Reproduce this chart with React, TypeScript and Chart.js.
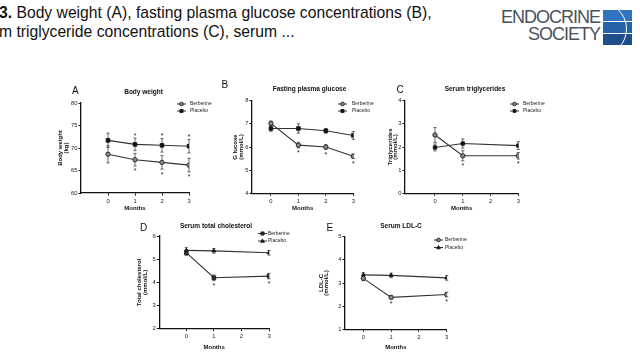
import React, { useEffect, useRef } from "react";
import { Chart, registerables } from "chart.js";

Chart.register(...registerables);

const FONT = "'Liberation Sans', Arial, Helvetica, sans-serif";
const LINE = "#333333";
const AXIS = "#111111";

// ---------- Panel A: body weight (kg)
const monthsA = [0, 1, 2, 3];
const weightBerberine = [68.6, 67.4, 66.8, 66.2];
const weightBerberineSem = [1.9, 1.4, 1.5, 1.5];
const weightPlacebo = [71.7, 70.8, 70.6, 70.4];
const weightPlaceboSem = [1.6, 1.4, 1.5, 1.5];
const weightStarMonths = [1, 2, 3];

// ---------- Panel B: fasting plasma glucose (mmol/L)
const monthsB = [0, 1, 2, 3];
const glucoseBerberine = [7.02, 6.08, 6.0, 5.6];
const glucoseBerberineSem = [0.1, 0.12, 0.1, 0.1];
const glucosePlacebo = [6.8, 6.8, 6.7, 6.5];
const glucosePlaceboSem = [0.12, 0.2, 0.1, 0.17];
const glucoseStarMonths = [1, 2, 3];

// ---------- Panel C: serum triglycerides (mmol/L)
const monthsC = [0, 1, 3];
const tgBerberine = [2.52, 1.62, 1.62];
const tgBerberineSem = [0.32, 0.22, 0.14];
const tgPlacebo = [1.98, 2.15, 2.06];
const tgPlaceboSem = [0.15, 0.2, 0.17];
const tgStarMonths = [1, 3];

// ---------- Panel D: serum total cholesterol (mmol/L)
const monthsD = [0, 1, 3];
const tcBerberine = [5.28, 4.2, 4.27];
const tcBerberineSem = [0.12, 0.12, 0.12];
const tcPlacebo = [5.38, 5.36, 5.28];
const tcPlaceboSem = [0.12, 0.1, 0.1];
const tcStarMonths = [1, 3];

// ---------- Panel E: serum LDL-C (mmol/L)
const monthsE = [0, 1, 3];
const ldlBerberine = [3.2, 2.38, 2.5];
const ldlBerberineSem = [0.1, 0.07, 0.1];
const ldlPlacebo = [3.35, 3.33, 3.22];
const ldlPlaceboSem = [0.1, 0.1, 0.1];
const ldlStarMonths = [1, 3];

const xTicks = [0, 1, 2, 3];
const seriesNames = ["Berberine", "Placebo"];

type MarkerStyle = "circle" | "rect" | "triangle";

type Series = {
  name: string;
  x: number[];
  y: number[];
  err: number[];
  point: MarkerStyle;
  r: number;
  fill: string;
};

type PanelSpec = {
  box: [number, number, number, number];
  area: [number, number, number, number];
  xMin: number;
  yMin: number;
  yMax: number;
  yStep: number;
  xAxisBottom: number;
  yTitleLeft: number;
  yTitle: string[];
  title: string;
  titleX: number;
  titleY: number;
  label: string;
  labelX: number;
  labelY: number;
  legendX: number;
  legendTextX: number;
  legendY: [number, number];
  series: Series[];
  starsBelow: number[];
  starsAbove: number[];
};

function drawMarker(
  ctx: CanvasRenderingContext2D,
  style: MarkerStyle,
  x: number,
  y: number,
  r: number,
  fill: string
) {
  ctx.save();
  ctx.beginPath();
  if (style === "circle") {
    ctx.arc(x, y, r, 0, Math.PI * 2);
  } else if (style === "rect") {
    const s = r * Math.SQRT1_2;
    ctx.rect(x - s, y - s, 2 * s, 2 * s);
  } else {
    ctx.moveTo(x, y - r * 1.1);
    ctx.lineTo(x + r, y + r * 0.7);
    ctx.lineTo(x - r, y + r * 0.7);
    ctx.closePath();
  }
  ctx.fillStyle = fill;
  ctx.fill();
  ctx.lineWidth = 0.8;
  ctx.strokeStyle = "#111";
  ctx.stroke();
  ctx.restore();
}

function Panel({ spec }: { spec: PanelSpec }) {
  const ref = useRef<HTMLCanvasElement | null>(null);
  const [bx, by, bw, bh] = spec.box;

  useEffect(() => {
    const canvas = ref.current;
    if (!canvas) return;
    const [L, T, R, B] = spec.area;
    const yAxisW = L - spec.yTitleLeft;
    const xAxisH = spec.xAxisBottom - B;

    const decor = {
      id: "decor",
      beforeDatasetsDraw(chart: any) {
        const ctx: CanvasRenderingContext2D = chart.ctx;
        const ys = chart.scales.y;
        ctx.save();
        ctx.strokeStyle = "#444";
        ctx.lineWidth = 0.8;
        spec.series.forEach((s, di) => {
          const meta = chart.getDatasetMeta(di);
          s.y.forEach((v, i) => {
            const px = meta.data[i].x;
            const top = ys.getPixelForValue(v + s.err[i]);
            const bot = ys.getPixelForValue(v - s.err[i]);
            ctx.beginPath();
            ctx.moveTo(px, top);
            ctx.lineTo(px, bot);
            ctx.moveTo(px - 1.6, top);
            ctx.lineTo(px + 1.6, top);
            ctx.moveTo(px - 1.6, bot);
            ctx.lineTo(px + 1.6, bot);
            ctx.stroke();
          });
        });
        ctx.restore();
      },
      afterDraw(chart: any) {
        const ctx: CanvasRenderingContext2D = chart.ctx;
        const xs = chart.scales.x;
        const ys = chart.scales.y;
        ctx.save();
        ctx.fillStyle = "#111";
        ctx.font = `10px ${FONT}`;
        ctx.textAlign = "left";
        ctx.textBaseline = "middle";
        ctx.fillText(spec.label, spec.labelX - bx, spec.labelY - by);
        ctx.font = `bold 6.5px ${FONT}`;
        ctx.textAlign = "center";
        ctx.fillText(spec.title, spec.titleX - bx, spec.titleY - by);
        ctx.font = `5px ${FONT}`;
        ctx.textAlign = "left";
        spec.series.forEach((s, i) => {
          const ly = spec.legendY[i] - by;
          const lx = spec.legendX - bx;
          ctx.strokeStyle = LINE;
          ctx.lineWidth = 1;
          ctx.beginPath();
          ctx.moveTo(lx - 4.5, ly);
          ctx.lineTo(lx + 4.5, ly);
          ctx.stroke();
          drawMarker(ctx, s.point, lx, ly, s.r * 0.85, s.fill);
          ctx.fillStyle = "#222";
          ctx.fillText(s.name, spec.legendTextX - bx, ly);
        });
        ctx.font = `7px ${FONT}`;
        ctx.textAlign = "center";
        ctx.fillStyle = "#222";
        const sb = spec.series[0];
        spec.starsBelow.forEach((m) => {
          const i = sb.x.indexOf(m);
          if (i < 0) return;
          const px = xs.getPixelForValue(m);
          const py = ys.getPixelForValue(sb.y[i] - sb.err[i]) + 5.5;
          ctx.fillText("*", px, py);
        });
        const sa = spec.series[1];
        spec.starsAbove.forEach((m) => {
          const i = sa.x.indexOf(m);
          if (i < 0) return;
          const px = xs.getPixelForValue(m);
          const py = ys.getPixelForValue(sa.y[i] + sa.err[i]) - 2.5;
          ctx.fillText("*", px, py);
        });
        ctx.restore();
      },
    };

    const chart = new Chart(canvas, {
      type: "line",
      data: {
        datasets: spec.series.map((s) => ({
          label: s.name,
          data: s.x.map((m, i) => ({ x: m, y: s.y[i] })),
          borderColor: LINE,
          borderWidth: 1.1,
          pointStyle: s.point,
          pointRadius: s.r,
          pointBackgroundColor: s.fill,
          pointBorderColor: "#111",
          pointBorderWidth: 0.8,
          tension: 0,
          fill: false,
        })),
      },
      options: {
        responsive: false,
        animation: false,
        devicePixelRatio: 1,
        layout: {
          padding: {
            left: spec.yTitleLeft - bx,
            top: T - by,
            right: bx + bw - R,
            bottom: by + bh - spec.xAxisBottom,
          },
        },
        plugins: {
          legend: { display: false },
          tooltip: { enabled: false },
          title: { display: false },
        },
        scales: {
          x: {
            type: "linear",
            min: spec.xMin,
            max: 3,
            afterBuildTicks: (s: any) => {
              s.ticks = xTicks.map((v) => ({ value: v }));
            },
            afterFit: (s: any) => {
              s.height = xAxisH;
            },
            grid: {
              display: true,
              drawOnChartArea: false,
              drawTicks: true,
              tickLength: 2.5,
              color: AXIS,
              lineWidth: 1,
            },
            border: { display: true, color: AXIS, width: 1.3 },
            ticks: {
              font: { size: 5.8, family: FONT },
              color: "#222",
              padding: 2,
              maxRotation: 0,
              autoSkip: false,
            },
            title: {
              display: true,
              text: "Months",
              font: { size: 6, weight: "bold", family: FONT, lineHeight: 1 },
              color: "#111",
              padding: 0,
            },
          },
          y: {
            type: "linear",
            min: spec.yMin,
            max: spec.yMax,
            afterFit: (s: any) => {
              s.width = yAxisW;
            },
            grid: {
              display: true,
              drawOnChartArea: false,
              drawTicks: true,
              tickLength: 2.5,
              color: AXIS,
              lineWidth: 1,
            },
            border: { display: true, color: AXIS, width: 1.3 },
            ticks: {
              stepSize: spec.yStep,
              font: { size: 5.8, family: FONT },
              color: "#222",
              padding: 1,
            },
            title: {
              display: true,
              text: spec.yTitle,
              font: { size: 6, weight: "bold", family: FONT, lineHeight: 0.9 },
              color: "#111",
              padding: 0,
            },
          },
        },
      } as any,
      plugins: [decor as any],
    });
    return () => chart.destroy();
  }, []);

  return (
    <canvas
      ref={ref}
      width={bw}
      height={bh}
      style={{ position: "absolute", left: bx, top: by, width: bw, height: bh }}
    />
  );
}

const BER_FILL = "#8a8a8a";
const PLA_FILL = "#111111";

const panels: PanelSpec[] = [
  {
    box: [48, 78, 175, 140],
    area: [81, 103, 189, 193],
    xMin: -1,
    yMin: 60,
    yMax: 80,
    yStep: 5,
    xAxisBottom: 211.5,
    yTitleLeft: 58,
    yTitle: ["Body weight", "(kg)"],
    title: "Body weight",
    titleX: 143.5,
    titleY: 92,
    label: "A",
    labelX: 72,
    labelY: 91.5,
    legendX: 181.5,
    legendTextX: 190,
    legendY: [104, 111],
    series: [
      { name: seriesNames[0], x: monthsA, y: weightBerberine, err: weightBerberineSem, point: "circle", r: 2.2, fill: BER_FILL },
      { name: seriesNames[1], x: monthsA, y: weightPlacebo, err: weightPlaceboSem, point: "rect", r: 2.6, fill: PLA_FILL },
    ],
    starsBelow: weightStarMonths,
    starsAbove: weightStarMonths,
  },
  {
    box: [215, 78, 168, 140],
    area: [252, 100.7, 353.3, 193.3],
    xMin: -0.69,
    yMin: 4,
    yMax: 8,
    yStep: 1,
    xAxisBottom: 211.5,
    yTitleLeft: 233,
    yTitle: ["G lucose", "(mmol/L)"],
    title: "Fasting plasma glucose",
    titleX: 309.5,
    titleY: 89.5,
    label: "B",
    labelX: 221.5,
    labelY: 85.5,
    legendX: 342.5,
    legendTextX: 352,
    legendY: [104, 111],
    series: [
      { name: seriesNames[0], x: monthsB, y: glucoseBerberine, err: glucoseBerberineSem, point: "circle", r: 2.2, fill: BER_FILL },
      { name: seriesNames[1], x: monthsB, y: glucosePlacebo, err: glucosePlaceboSem, point: "rect", r: 2.6, fill: PLA_FILL },
    ],
    starsBelow: glucoseStarMonths,
    starsAbove: [],
  },
  {
    box: [382, 78, 175, 140],
    area: [405, 100.7, 518.3, 193.3],
    xMin: -1.08,
    yMin: 0,
    yMax: 4,
    yStep: 1,
    xAxisBottom: 211.5,
    yTitleLeft: 387.5,
    yTitle: ["Triglycerides", "(mmol/L)"],
    title: "Serum triglycerides",
    titleX: 475,
    titleY: 89.5,
    label: "C",
    labelX: 396.5,
    labelY: 90,
    legendX: 514.5,
    legendTextX: 523,
    legendY: [104, 111],
    series: [
      { name: seriesNames[0], x: monthsC, y: tgBerberine, err: tgBerberineSem, point: "circle", r: 2.2, fill: BER_FILL },
      { name: seriesNames[1], x: monthsC, y: tgPlacebo, err: tgPlaceboSem, point: "rect", r: 2.4, fill: PLA_FILL },
    ],
    starsBelow: tgStarMonths,
    starsAbove: [],
  },
  {
    box: [130, 218, 170, 140],
    area: [159.3, 236, 269, 328.7],
    xMin: -0.98,
    yMin: 2,
    yMax: 6,
    yStep: 1,
    xAxisBottom: 350,
    yTitleLeft: 137,
    yTitle: ["Total cholesterol", "(mmol/L)"],
    title: "Serum total cholesterol",
    titleX: 216,
    titleY: 226,
    label: "D",
    labelX: 140,
    labelY: 228.5,
    legendX: 262.5,
    legendTextX: 268,
    legendY: [233.5, 241],
    series: [
      { name: seriesNames[0], x: monthsD, y: tcBerberine, err: tcBerberineSem, point: "rect", r: 2.6, fill: "#333" },
      { name: seriesNames[1], x: monthsD, y: tcPlacebo, err: tcPlaceboSem, point: "triangle", r: 2.2, fill: PLA_FILL },
    ],
    starsBelow: tcStarMonths,
    starsAbove: [],
  },
  {
    box: [312, 218, 180, 140],
    area: [345, 236.7, 446.7, 329.3],
    xMin: -0.66,
    yMin: 1,
    yMax: 5,
    yStep: 1,
    xAxisBottom: 350,
    yTitleLeft: 318.5,
    yTitle: ["LDL-C", "(mmol/L)"],
    title: "Serum LDL-C",
    titleX: 401,
    titleY: 226,
    label: "E",
    labelX: 326.5,
    labelY: 228.5,
    legendX: 438.5,
    legendTextX: 445,
    legendY: [240, 247.5],
    series: [
      { name: seriesNames[0], x: monthsE, y: ldlBerberine, err: ldlBerberineSem, point: "circle", r: 2.2, fill: BER_FILL },
      { name: seriesNames[1], x: monthsE, y: ldlPlacebo, err: ldlPlaceboSem, point: "triangle", r: 2.2, fill: PLA_FILL },
    ],
    starsBelow: ldlStarMonths,
    starsAbove: [],
  },
];

function Logo() {
  const textStyle: React.CSSProperties = {
    position: "absolute",
    left: 480,
    width: 120,
    textAlign: "right",
    fontFamily: "'Liberation Sans Narrow', 'Liberation Sans', Arial, sans-serif",
    fontSize: 18,
    lineHeight: "17px",
    color: "#4a525c",
    letterSpacing: -1,
    fontWeight: 300,
    whiteSpace: "nowrap",
  };
  return (
    <>
      <div style={{ ...textStyle, top: 9 }}>ENDOCRINE</div>
      <div style={{ ...textStyle, top: 26 }}>SOCIETY</div>
      <div
        style={{
          position: "absolute",
          left: 603,
          top: 10,
          width: 29,
          height: 35,
          overflow: "hidden",
          background: "#ffffff",
        }}
      >
        <div style={{ position: "absolute", left: 0, top: 0, width: 29, height: 11, background: "#2f74bf" }} />
        <div style={{ position: "absolute", left: 0, top: 12, width: 29, height: 11, background: "#2563a8" }} />
        <div style={{ position: "absolute", left: 0, top: 24, width: 29, height: 11, background: "#1c4f8c" }} />
        <div
          style={{
            position: "absolute",
            left: -30,
            top: -8,
            width: 52,
            height: 52,
            borderRadius: "50%",
            border: "1.5px solid #ffffff",
          }}
        />
      </div>
    </>
  );
}

export default function App() {
  return (
    <div
      style={{
        position: "fixed",
        left: 0,
        top: 0,
        width: 640,
        height: 360,
        background: "#ffffff",
        overflow: "hidden",
      }}
    >
      <div
        style={{
          position: "absolute",
          left: -1,
          top: 2.5,
          fontFamily: FONT,
          fontSize: 15.7,
          lineHeight: "19px",
          color: "#111",
          whiteSpace: "nowrap",
        }}
      >
        <div>
          <b>3.</b> Body weight (A), fasting plasma glucose concentrations (B),
        </div>
        <div>m triglyceride concentrations (C), serum ...</div>
      </div>
      <Logo />
      {panels.map((p) => (
        <Panel key={p.label} spec={p} />
      ))}
    </div>
  );
}
